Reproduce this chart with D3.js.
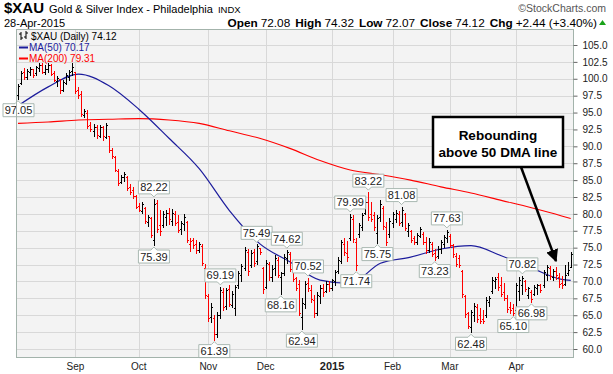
<!DOCTYPE html>
<html>
<head>
<meta charset="utf-8">
<script src="https://cdn.jsdelivr.net/npm/d3@7"></script>
<style>
  body { margin: 0; background: #fff; }
  svg text { font-family: "Liberation Sans", Arial, sans-serif; }
</style>
</head>
<body>
<div id="chart"></div>
<script>
var svgWidth = 613;
var svgHeight = 374;
var plot = { left: 16, right: 573, top: 29, bottom: 357 };

// month labels and trading days per month (Aug is partial)
var monthLabels = ["Sep", "Oct", "Nov", "Dec", "2015", "Feb", "Mar", "Apr"];
var monthDays = [19, 21, 23, 19, 22, 20, 19, 22, 19];

var yTicks = [60, 62.5, 65, 67.5, 70, 72.5, 75, 77.5, 80, 82.5, 85, 87.5, 90, 92.5, 95, 97.5, 100, 102.5, 105];

// daily OHLC
var opens = [97.6,99.4,101.0,100.2,101.0,101.4,100.8,101.6,102.1,101.0,101.5,102.0,100.8,99.6,100.0,98.4,99.4,100.3,101.1,
  101.0,98.4,97.8,94.7,95.0,93.2,92.3,92.8,91.6,92.9,91.4,91.5,89.5,88.4,86.4,84.7,85.4,85.5,84.0,83.5,82.6,
  81.2,80.5,80.8,78.8,79.4,76.2,81.6,78.4,78.4,79.6,80.1,79.0,80.0,78.8,77.8,78.5,78.8,75.6,76.2,75.6,74.6,75.2,72.0,
  67.8,64.8,64.6,62.2,65.0,68.5,66.4,68.9,66.5,66.0,69.4,71.0,72.0,74.4,72.4,74.4,73.0,75.0,72.0,
  69.2,72.6,70.6,72.0,73.2,70.6,71.2,73.5,74.0,72.0,70.5,69.6,64.8,66.6,69.8,68.8,67.2,65.4,67.8,69.0,68.6,69.6,
  69.0,70.0,71.6,73.0,75.6,74.2,76.4,79.2,75.8,77.0,78.0,80.2,81.8,80.0,79.8,77.2,79.6,80.8,78.0,77.0,
  78.6,79.2,80.0,78.8,80.0,77.4,77.4,76.4,75.8,76.8,77.0,75.8,74.6,75.6,74.2,73.8,74.8,75.6,76.4,
  76.8,75.4,73.8,73.4,71.6,67.8,65.4,63.2,65.0,66.2,65.0,64.4,65.0,67.0,68.6,70.0,70.6,69.4,68.4,67.6,66.2,66.0,
  65.8,68.6,69.4,70.0,68.0,68.4,68.2,69.0,69.4,69.4,71.0,72.0,70.6,71.6,70.6,69.8,69.6,71.2,72.08];
var highs = [99.3,101.2,101.6,101.4,101.8,101.5,101.9,102.4,102.3,102.0,102.4,102.2,101.2,100.4,100.0,99.8,100.8,101.3,102.3,
  101.0,98.8,98.2,95.6,95.4,93.6,93.3,93.1,93.2,93.0,93.5,91.6,89.8,88.6,86.6,85.8,86.2,85.6,84.4,84.0,82.8,
  81.6,81.8,81.0,79.9,79.6,82.22,82.0,80.6,80.5,80.6,80.8,80.7,80.4,79.8,79.0,80.0,79.0,76.5,76.4,76.1,75.8,75.6,72.6,
  68.2,66.8,65.0,65.5,69.19,69.0,69.1,69.4,68.6,69.5,71.6,72.6,75.1,74.8,74.6,74.8,75.49,75.0,72.2,
  73.2,72.9,72.4,73.9,73.6,71.4,74.0,74.62,74.4,72.7,70.6,70.2,67.6,70.0,70.52,69.4,68.0,68.4,69.4,69.6,70.0,70.1,
  70.4,71.7,73.6,76.2,76.4,76.0,79.99,79.8,76.4,78.6,80.1,82.0,83.22,81.7,80.3,79.8,82.0,81.2,78.8,79.4,
  80.3,80.6,80.4,81.08,80.1,78.6,77.6,76.8,77.2,78.1,77.3,76.6,76.4,75.8,74.8,75.2,76.2,76.9,77.63,
  77.0,75.6,74.2,73.9,71.7,68.0,65.5,65.8,66.8,66.6,66.0,65.8,67.7,67.9,70.7,70.6,71.3,70.6,69.8,68.0,67.0,66.6,
  69.8,70.7,70.82,70.2,69.2,68.8,69.5,69.6,69.6,71.7,72.5,72.3,71.8,72.2,71.3,70.8,72.4,72.9,74.32];
var lows = [97.05,99.2,100.0,99.9,100.5,100.3,100.6,101.2,100.8,100.7,101.0,100.5,99.6,98.9,97.9,98.2,99.2,99.8,100.6,
  97.9,97.2,94.5,94.3,92.7,92.2,91.6,91.3,91.4,91.0,91.3,89.2,88.3,86.3,84.3,84.5,84.9,83.6,83.0,82.4,80.8,
  80.4,80.2,78.6,78.2,76.6,75.39,77.3,76.9,78.1,78.4,78.5,78.3,78.3,77.3,77.0,77.6,75.9,74.5,75.0,74.2,74.3,72.4,67.6,
  64.2,64.0,61.39,61.8,64.6,65.8,65.9,66.3,66.2,65.0,69.0,70.0,71.7,71.0,72.2,72.3,72.6,74.1,68.3,
  69.0,70.2,70.1,71.0,70.7,68.16,71.0,72.8,71.5,70.0,68.8,65.0,62.94,66.0,68.6,67.0,64.8,65.0,66.8,67.8,68.4,68.6,
  68.8,69.5,71.3,72.7,73.9,73.0,76.2,75.9,71.74,76.6,77.6,80.0,79.1,79.0,77.6,75.75,79.0,77.8,75.4,76.6,
  78.0,78.8,78.4,78.2,77.6,76.8,75.9,75.5,75.6,76.6,75.5,74.2,74.4,73.8,73.23,73.5,74.2,75.1,75.8,
  75.1,73.6,72.3,72.2,67.7,64.8,63.1,62.48,64.2,64.0,63.8,63.9,64.8,66.4,68.3,69.0,68.8,67.8,67.3,65.5,65.4,65.10,
  65.5,67.3,68.2,68.6,67.6,66.98,68.0,68.2,68.4,69.2,70.2,70.4,70.2,70.4,69.2,69.0,69.5,71.0,72.07];
var closes = [99.0,100.8,100.3,101.2,101.5,100.6,101.7,102.0,101.0,101.4,102.1,100.7,99.8,100.1,98.3,99.5,100.5,101.0,101.8,
  98.2,97.6,94.8,95.2,93.0,92.5,92.9,91.7,92.8,91.5,93.1,89.4,88.6,86.5,84.6,85.5,85.9,83.9,83.3,82.7,81.0,
  80.6,81.4,78.9,79.5,76.9,81.4,77.8,77.4,80.0,80.2,79.3,80.1,78.6,77.6,78.7,79.6,76.2,76.0,75.4,74.6,75.5,72.7,68.0,
  64.6,66.2,62.2,65.0,68.7,66.2,68.8,66.6,68.1,69.2,71.2,72.3,74.6,71.5,74.2,72.8,75.2,74.3,68.9,
  72.8,70.6,71.9,73.4,71.0,71.2,73.6,74.3,71.9,70.4,69.1,65.4,66.8,69.6,69.0,67.4,65.4,68.0,69.0,68.4,69.6,69.0,
  70.2,71.4,73.2,75.8,74.3,73.6,79.5,76.3,72.4,78.3,79.8,81.7,79.6,79.3,78.0,79.4,81.5,78.2,75.8,79.0,
  80.0,80.2,78.7,80.6,77.9,78.3,76.2,75.8,76.9,77.7,75.8,74.6,75.9,74.1,73.6,74.8,75.9,76.6,77.3,
  75.4,74.0,72.6,72.5,68.1,65.2,63.4,65.5,66.4,64.4,64.2,64.1,67.2,67.5,70.2,70.3,69.2,68.2,67.6,65.9,65.7,65.4,
  69.4,70.2,70.5,68.9,69.0,67.4,69.2,69.4,68.7,71.4,72.2,70.8,71.5,70.9,69.6,69.4,71.0,71.68,74.12];

// moving averages read at every 10th bar
var maIdx = [0, 10, 20, 30, 40, 50, 60, 70, 80, 90, 100, 110, 120, 130, 140, 150, 160, 170, 180, 183];
var ma50 = [96.0, 98.8, 100.7, 99.0, 95.5, 91.2, 86.7, 80.5, 75.6, 72.9, 70.2, 69.7, 72.7, 73.6, 74.8, 75.3, 73.8, 72.0, 70.3, 70.17];
var ma200 = [93.4, 93.6, 93.9, 94.0, 94.1, 93.9, 93.4, 92.3, 91.2, 89.7, 87.9, 86.5, 85.8, 85.0, 84.0, 83.1, 82.0, 80.9, 79.7, 79.31];

// price tags on swing highs / lows
var tagIdx = [0, 45, 45, 67, 65, 79, 89, 87, 94, 96, 110, 112, 116, 119, 127, 138, 142, 150, 167, 164, 170];
var tagVal = [97.05, 82.22, 75.39, 69.19, 61.39, 75.49, 74.62, 68.16, 62.94, 70.52, 79.99, 71.74, 83.22, 75.75, 81.08, 73.23, 77.63, 62.48, 70.82, 65.10, 66.98];
var tagHigh = [false, true, false, true, false, true, true, false, false, true, true, false, true, false, true, false, true, false, true, false, false];

var svg = d3.select("#chart")
  .append("svg")
  .attr("width", svgWidth)
  .attr("height", svgHeight);

var x = d3.scaleLinear().domain([0, closes.length - 1]).range([18, 570.7]);
var y = d3.scaleLinear().domain([60, 105]).range([349, 45]);

// plot background
svg.append("rect")
  .attr("x", plot.left).attr("y", plot.top)
  .attr("width", plot.right - plot.left).attr("height", plot.bottom - plot.top)
  .attr("fill", "#f3f3f3");

// first bar of each month
var monthStart = [];
var acc = 0;
monthDays.forEach(function(d, i) {
  acc += d;
  if (i < monthLabels.length) monthStart.push(acc);
});

var grid = svg.append("g").attr("shape-rendering", "crispEdges");
grid.selectAll(".hg")
  .data(yTicks)
  .enter().append("line")
  .attr("x1", plot.left).attr("x2", plot.right)
  .attr("y1", function(d) { return Math.round(y(d)) + 0.5; })
  .attr("y2", function(d) { return Math.round(y(d)) + 0.5; })
  .attr("stroke", "#d8d8d8");
grid.selectAll(".vg")
  .data(monthStart)
  .enter().append("line")
  .attr("x1", function(d) { return Math.round(x(d)) + 0.5; })
  .attr("x2", function(d) { return Math.round(x(d)) + 0.5; })
  .attr("y1", plot.top).attr("y2", plot.bottom)
  .attr("stroke", "#d8d8d8");

// moving averages
var maLine = function(vals) {
  return d3.line()
    .x(function(d, i) { return x(maIdx[i]); })
    .y(function(d) { return y(d); })
    .curve(d3.curveMonotoneX)(vals);
};
svg.append("path").attr("d", maLine(ma200)).attr("fill", "none").attr("stroke", "#ff0000").attr("stroke-width", 1.1);
svg.append("path").attr("d", maLine(ma50)).attr("fill", "none").attr("stroke", "#1c1c9c").attr("stroke-width", 1.2);

// OHLC bars, red when the close is below the prior close
var bars = svg.append("g").attr("shape-rendering", "crispEdges");
bars.selectAll("path")
  .data(closes)
  .enter().append("path")
  .attr("d", function(c, i) {
    var bx = Math.round(x(i)) + 0.5;
    return "M" + bx + "," + Math.round(y(highs[i])) + "V" + (Math.round(y(lows[i])) + 1) +
      "M" + (bx - 1.5) + "," + (Math.round(y(opens[i])) + 0.5) + "H" + bx +
      "M" + bx + "," + (Math.round(y(c)) + 0.5) + "H" + (bx + 1.5);
  })
  .attr("fill", "none")
  .attr("stroke", function(c, i) { return (i > 0 && c < closes[i - 1]) ? "#ff0000" : "#000"; })
  .attr("stroke-width", 1);

// price tags
var tags = svg.append("g");
tagVal.forEach(function(v, k) {
  var label = v.toFixed(2);
  var w = 31, h = 13;
  var cx = x(tagIdx[k]);
  var bx = Math.max(3, cx - w / 2);
  var py, top, path;
  if (tagHigh[k]) {
    py = y(v) - 2;
    top = py - 3 - h;
    path = "M" + bx + "," + top + "H" + (bx + w) + "V" + (top + h) + "H" + (cx + 3) + "L" + cx + "," + py +
      "L" + (cx - 3) + "," + (top + h) + "H" + bx + "Z";
  } else {
    py = y(v) + 2;
    top = py + 3;
    path = "M" + bx + "," + top + "H" + (cx - 3) + "L" + cx + "," + py + "L" + (cx + 3) + "," + top +
      "H" + (bx + w) + "V" + (top + h) + "H" + bx + "Z";
  }
  tags.append("path")
    .attr("d", path)
    .attr("fill", "#fff")
    .attr("stroke", "#a9b8b1")
    .attr("stroke-width", 1);
  tags.append("text")
    .attr("x", bx + w / 2).attr("y", top + 10.5)
    .attr("text-anchor", "middle")
    .attr("font-size", "11px")
    .attr("fill", "#222")
    .text(label);
});

// plot frame
svg.append("rect")
  .attr("x", plot.left + 0.5).attr("y", plot.top + 0.5)
  .attr("width", plot.right - plot.left).attr("height", plot.bottom - plot.top)
  .attr("fill", "none").attr("stroke", "#a3b3ab");

// right price axis
var rightAxis = d3.axisRight(y).tickValues(yTicks).tickFormat(d3.format(".1f")).tickSize(4).tickPadding(5);
var ya = svg.append("g")
  .attr("transform", "translate(" + (plot.right + 0.5) + ",0)")
  .call(rightAxis);
ya.select(".domain").remove();
ya.selectAll("line").attr("stroke", "#666");
ya.selectAll("text")
  .attr("font-family", "DejaVu Sans, sans-serif")
  .attr("font-size", "10px")
  .attr("fill", "#222");

// month labels
svg.selectAll(".mlab")
  .data(monthLabels)
  .enter().append("text")
  .attr("x", function(d, i) { return x(monthStart[i]); })
  .attr("y", 370)
  .attr("text-anchor", "middle")
  .attr("font-family", "DejaVu Sans, sans-serif")
  .attr("font-size", function(d) { return d === "2015" ? "11px" : "10px"; })
  .attr("font-weight", function(d) { return d === "2015" ? "bold" : "normal"; })
  .attr("fill", "#222")
  .text(function(d) { return d; });

// header
var head = svg.append("text").attr("x", 4).attr("y", 13).attr("fill", "#000");
head.append("tspan").attr("font-size", "15px").attr("font-weight", "bold").text("$XAU");
head.append("tspan").attr("font-size", "11px").attr("dx", 5).text("Gold & Silver Index - Philadelphia");
head.append("tspan").attr("font-size", "9.5px").attr("dx", 5).text("INDX");

svg.append("text")
  .attr("x", 606).attr("y", 12)
  .attr("text-anchor", "end")
  .attr("font-size", "10.5px")
  .attr("fill", "#555")
  .text("\u00a9StockCharts.com");

svg.append("text")
  .attr("x", 4).attr("y", 26.5)
  .attr("font-size", "11px")
  .text("28-Apr-2015");

var quote = svg.append("text").attr("x", 597).attr("y", 26.5).attr("text-anchor", "end").attr("font-size", "11.8px");
[["Open", "72.08"], ["High", "74.32"], ["Low", "72.07"], ["Close", "74.12"], ["Chg", "+2.44 (+3.40%)"]].forEach(function(p, k) {
  quote.append("tspan").attr("font-weight", "bold").attr("dx", k ? 5 : 0).text(p[0]);
  quote.append("tspan").attr("dx", 3).text(p[1]);
});
svg.append("path").attr("d", "M599,25L602.5,20L606,25Z").attr("fill", "#1aa31a");

// legend
var leg = svg.append("g").attr("font-family", "DejaVu Sans, sans-serif").attr("font-size", "10px");
leg.append("path").attr("d", "M21,32V40M19,34H21M21,38H23M26,31V39M24,37H26M26,33H28").attr("stroke", "#000").attr("fill", "none");
leg.append("text").attr("x", 31).attr("y", 40).attr("fill", "#000").text("$XAU (Daily) 74.12");
leg.append("line").attr("x1", 19).attr("x2", 28).attr("y1", 47.5).attr("y2", 47.5).attr("stroke", "#1c1c9c").attr("stroke-width", 2);
leg.append("text").attr("x", 29).attr("y", 51).attr("fill", "#1c1c9c").text("MA(50) 70.17");
leg.append("line").attr("x1", 19).attr("x2", 28).attr("y1", 58.5).attr("y2", 58.5).attr("stroke", "#ff0000").attr("stroke-width", 2);
leg.append("text").attr("x", 29).attr("y", 62).attr("fill", "#ff0000").text("MA(200) 79.31");

// callout box and arrow
svg.append("defs").append("marker")
  .attr("id", "head").attr("viewBox", "0 0 10 10").attr("refX", 9).attr("refY", 5)
  .attr("markerWidth", 5).attr("markerHeight", 5).attr("orient", "auto")
  .append("path").attr("d", "M0,0L10,5L0,10Z").attr("fill", "#000");
svg.append("line")
  .attr("x1", 521).attr("y1", 167).attr("x2", 556).attr("y2", 261)
  .attr("stroke", "#000").attr("stroke-width", 2.5)
  .attr("marker-end", "url(#head)");
svg.append("rect")
  .attr("x", 433).attr("y", 117).attr("width", 130).attr("height", 50)
  .attr("fill", "#fff").attr("stroke", "#000").attr("stroke-width", 2.5);
svg.append("text").attr("x", 498).attr("y", 140).attr("text-anchor", "middle")
  .attr("font-size", "13.5px").attr("font-weight", "bold").text("Rebounding");
svg.append("text").attr("x", 498).attr("y", 157).attr("text-anchor", "middle")
  .attr("font-size", "13.5px").attr("font-weight", "bold").text("above 50 DMA line");
</script>
</body>
</html>
